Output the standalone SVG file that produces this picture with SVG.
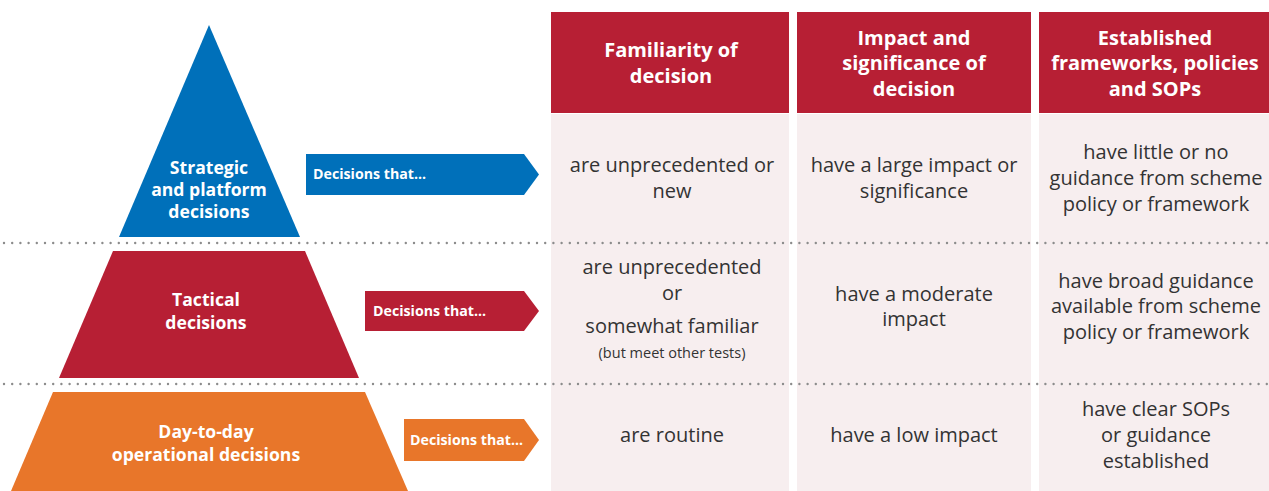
<svg xmlns="http://www.w3.org/2000/svg" width="1269" height="491" viewBox="0 0 1269 491">
<style>
.hdr{fill:#B71F34}
.cell{fill:#F7EEEF}
.ht{font-family:"Open Sans","Noto Sans",sans-serif;font-weight:700;font-size:20px;fill:#fff;text-anchor:middle}
.bt{font-family:"Open Sans","Noto Sans",sans-serif;font-size:20px;fill:#333;text-anchor:middle}
.st{font-family:"Open Sans","Noto Sans",sans-serif;font-size:14.5px;fill:#333;text-anchor:middle}
.pt{font-family:"Open Sans","Noto Sans",sans-serif;font-weight:700;font-size:17.6px;fill:#fff;text-anchor:middle}
.at{font-family:"Open Sans","Noto Sans",sans-serif;font-weight:700;font-size:14.2px;fill:#fff}
.dot{stroke:#8C8C8C;stroke-width:2.4;stroke-linecap:round;stroke-dasharray:0 8.2;fill:none}
</style>
<rect width="1269" height="491" fill="#fff"/>
<g id="table">
<rect class="hdr" x="551" y="12" width="238" height="101"/>
<rect class="hdr" x="797" y="12" width="234" height="101"/>
<rect class="hdr" x="1039" y="12" width="230" height="101"/>
<rect class="cell" x="551" y="114" width="238" height="377"/>
<rect class="cell" x="797" y="114" width="234" height="377"/>
<rect class="cell" x="1039" y="114" width="230" height="377"/>
<text class="ht" x="671" y="57">Familiarity of</text>
<text class="ht" x="671" y="83">decision</text>
<text class="ht" x="914" y="45">Impact and</text>
<text class="ht" x="914" y="70">significance of</text>
<text class="ht" x="914" y="96">decision</text>
<text class="ht" x="1155" y="45">Established</text>
<text class="ht" x="1155" y="70">frameworks, policies</text>
<text class="ht" x="1155" y="96">and SOPs</text>
<text class="bt" x="672" y="172">are unprecedented or</text>
<text class="bt" x="672" y="198">new</text>
<text class="bt" x="914" y="172">have a large impact or</text>
<text class="bt" x="914" y="198">significance</text>
<text class="bt" x="1156" y="159">have little or no</text>
<text class="bt" x="1156" y="185">guidance from scheme</text>
<text class="bt" x="1156" y="211">policy or framework</text>
<text class="bt" x="672" y="274">are unprecedented</text>
<text class="bt" x="672" y="300">or</text>
<text class="bt" x="672" y="333">somewhat familiar</text>
<text class="st" x="672" y="358">(but meet other tests)</text>
<text class="bt" x="914" y="301">have a moderate</text>
<text class="bt" x="914" y="326">impact</text>
<text class="bt" x="1156" y="288">have broad guidance</text>
<text class="bt" x="1156" y="313">available from scheme</text>
<text class="bt" x="1156" y="339">policy or framework</text>
<text class="bt" x="672" y="442">are routine</text>
<text class="bt" x="914" y="442">have a low impact</text>
<text class="bt" x="1156" y="416">have clear SOPs</text>
<text class="bt" x="1156" y="442">or guidance</text>
<text class="bt" x="1156" y="468">established</text>
</g>
<g id="dividers">
<line class="dot" x1="4" y1="243" x2="1269" y2="243"/>
<line class="dot" x1="4" y1="384" x2="1269" y2="384"/>
</g>
<g id="strategic">
<polygon points="209,25 300,237 119,237" fill="#0070BA"/>
<text class="pt" x="209" y="174">Strategic</text>
<text class="pt" x="209" y="196">and platform</text>
<text class="pt" x="209" y="218">decisions</text>
</g>
<g id="tactical">
<polygon points="113,251 305,251 359,378 59,378" fill="#B71F34"/>
<text class="pt" x="206" y="306">Tactical</text>
<text class="pt" x="206" y="329">decisions</text>
</g>
<g id="operational">
<polygon points="53,392 365,392 408,491 11,491" fill="#E8762A"/>
<text class="pt" x="206" y="438">Day-to-day</text>
<text class="pt" x="206" y="461">operational decisions</text>
</g>
<g id="connectors">
<g id="arrow-strategic">
<polygon points="306,154 524,154 539,174.5 524,195 306,195" fill="#0070BA"/>
<text class="at" x="313" y="179">Decisions that...</text>
</g>
<g id="arrow-tactical">
<polygon points="365,291 524,291 539,311 524,331 365,331" fill="#B71F34"/>
<text class="at" x="373" y="316">Decisions that...</text>
</g>
<g id="arrow-operational">
<polygon points="404,419 524,419 539,440 524,461 404,461" fill="#E8762A"/>
<text class="at" x="410" y="445">Decisions that...</text>
</g>
</g>
</svg>
